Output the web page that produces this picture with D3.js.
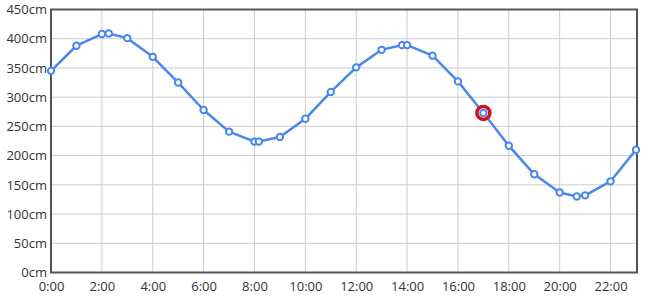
<!DOCTYPE html>
<html>
<head>
<meta charset="utf-8">
<title>Water level</title>
<style>
body {margin: 0; background: #fff;}
.tick text {font-family: "Open Sans", sans-serif; font-size: 13px; fill: #333;}
</style>
</head>
<body>
<div id="chart"></div>
<script src="https://cdn.jsdelivr.net/npm/d3@7"></script>
<script>
// hours of the day (decimal) and water level in cm
var hours = [0, 1, 2, 2.27, 3, 4, 5, 6, 7, 8, 8.17, 9, 10, 11, 12, 13, 13.8, 14, 15, 16, 17, 18, 19, 20, 20.67, 21, 22, 23];
var levels = [345, 388, 408, 409, 401, 369, 325, 278, 241, 224, 224, 232, 263, 309, 351, 381, 389, 389, 371, 327, 273, 217, 168, 137, 130, 132, 156, 210];
var xTicks = [0, 2, 4, 6, 8, 10, 12, 14, 16, 18, 20, 22];
var yTicks = [0, 50, 100, 150, 200, 250, 300, 350, 400, 450];
var current = 17;

(function(d3) {
	var width = 653;
	var height = 302;
	var left = 51, right = 636, top = 9.5, bottom = 272.5;

	var data = hours.map(function(h, i) { return {h: h, v: levels[i]}; });

	var x = d3.scaleLinear().domain([0, 23]).range([left, right]);
	var y = d3.scaleLinear().domain([0, 450]).range([bottom, top]);

	var svg = d3.select('#chart')
		.append('svg')
		.attr('width', width)
		.attr('height', height);

	// grid
	svg.append('g')
		.selectAll('line.v')
		.data(xTicks)
		.enter()
		.append('line')
		.attr('x1', function(d) { return x(d); })
		.attr('x2', function(d) { return x(d); })
		.attr('y1', top)
		.attr('y2', bottom)
		.attr('stroke', '#ccc')
		.attr('stroke-width', 1);
	svg.append('g')
		.selectAll('line.h')
		.data(yTicks)
		.enter()
		.append('line')
		.attr('x1', left)
		.attr('x2', right + 1)
		.attr('y1', function(d) { return y(d); })
		.attr('y2', function(d) { return y(d); })
		.attr('stroke', '#ccc')
		.attr('stroke-width', 1);

	// axes (labels only, frame drawn separately)
	svg.append('g')
		.attr('transform', 'translate(0,' + bottom + ')')
		.call(d3.axisBottom(x).tickValues(xTicks).tickSize(0).tickPadding(9)
			.tickFormat(function(d) { return d + ':00'; }))
		.call(function(g) { g.select('.domain').remove(); });
	svg.append('g')
		.attr('transform', 'translate(' + left + ',0)')
		.call(d3.axisLeft(y).tickValues(yTicks).tickSize(0).tickPadding(4)
			.tickFormat(function(d) { return d + 'cm'; }))
		.call(function(g) { g.select('.domain').remove(); });

	// frame
	svg.append('rect')
		.attr('x', left)
		.attr('y', top)
		.attr('width', right + 1 - left)
		.attr('height', bottom - top)
		.attr('fill', 'none')
		.attr('stroke', '#555')
		.attr('stroke-width', 2);

	var line = d3.line()
		.x(function(d) { return x(d.h); })
		.y(function(d) { return y(d.v); });

	svg.append('path')
		.datum(data)
		.attr('d', line)
		.attr('fill', 'none')
		.attr('stroke', '#4a86f0')
		.attr('stroke-width', 2.5)
		.attr('stroke-linejoin', 'round');

	// current level marker
	var cur = data.filter(function(d) { return d.h === current; })[0];
	svg.append('circle')
		.attr('cx', x(cur.h))
		.attr('cy', y(cur.v))
		.attr('r', 6.5)
		.attr('fill', '#fff')
		.attr('stroke', '#d0101c')
		.attr('stroke-width', 3.5);

	svg.append('g')
		.selectAll('circle')
		.data(data)
		.enter()
		.append('circle')
		.attr('cx', function(d) { return x(d.h); })
		.attr('cy', function(d) { return y(d.v); })
		.attr('r', 3.2)
		.attr('fill', '#fff')
		.attr('stroke', '#4a86f0')
		.attr('stroke-width', 2);
})(window.d3);
</script>
</body>
</html>
